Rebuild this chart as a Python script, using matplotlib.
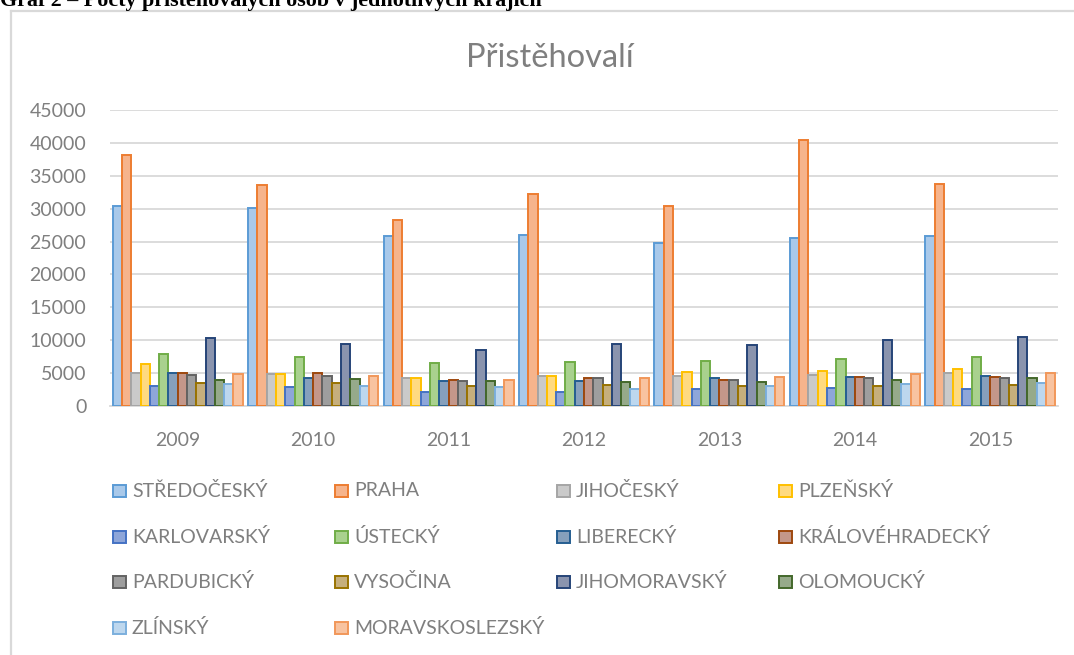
import numpy as np
import matplotlib.pyplot as plt
from matplotlib.patches import Rectangle
from matplotlib.lines import Line2D

years = ['2009', '2010', '2011', '2012', '2013', '2014', '2015']

kraje = ['STŘEDOČESKÝ', 'PRAHA', 'JIHOČESKÝ', 'PLZEŇSKÝ',
         'KARLOVARSKÝ', 'ÚSTECKÝ', 'LIBERECKÝ', 'KRÁLOVÉHRADECKÝ',
         'PARDUBICKÝ', 'VYSOČINA', 'JIHOMORAVSKÝ', 'OLOMOUCKÝ',
         'ZLÍNSKÝ', 'MORAVSKOSLEZSKÝ']

# pocty pristehovalych, jeden seznam na kraj (2009..2015)
stredocesky = [30400, 30100, 25800, 26000, 24800, 25600, 25800]
praha = [38100, 33600, 28300, 32300, 30400, 40400, 33700]
jihocesky = [5000, 4800, 4200, 4600, 4600, 4700, 5000]
plzensky = [6400, 4800, 4200, 4600, 5100, 5300, 5600]
karlovarsky = [3100, 2900, 2200, 2200, 2600, 2800, 2600]
ustecky = [7900, 7500, 6600, 6700, 6900, 7200, 7400]
liberecky = [5000, 4200, 3800, 3800, 4200, 4400, 4600]
kralovehradecky = [5000, 5000, 4000, 4200, 4000, 4400, 4400]
pardubicky = [4700, 4500, 3800, 4200, 4000, 4200, 4200]
vysocina = [3500, 3500, 3000, 3200, 3000, 3000, 3200]
jihomoravsky = [10300, 9500, 8500, 9500, 9300, 10100, 10500]
olomoucky = [3900, 4100, 3800, 3600, 3600, 4000, 4200]
zlinsky = [3300, 3100, 2900, 2600, 3000, 3300, 3500]
moravskoslezsky = [4800, 4500, 4000, 4300, 4400, 4800, 5000]

values = [stredocesky, praha, jihocesky, plzensky, karlovarsky, ustecky,
          liberecky, kralovehradecky, pardubicky, vysocina, jihomoravsky,
          olomoucky, zlinsky, moravskoslezsky]

edge_colors = ['#5B9BD5', '#ED7D31', '#A5A5A5', '#FFC000', '#4472C4', '#70AD47',
               '#255E91', '#9E480E', '#636363', '#997300', '#264478', '#43682B',
               '#7CAFDD', '#F1975A']
fill_colors = ['#A9C9EA', '#F6B48C', '#CACACA', '#FFDA80', '#8EA6D9', '#A9D18E',
               '#86A0BC', '#C4978A', '#9E9E9E', '#C6AF7C', '#8A94AE', '#96AA8A',
               '#BDD7EE', '#F8C3A0']

W, H = 1074, 655
fig = plt.figure(figsize=(W / 100, H / 100), dpi=100)

def px(x, y):
    return x / W, 1 - y / H

# ramecek grafu (pokracuje mimo obrazek vpravo a dole)
fig.add_artist(Line2D([11 / W, 11 / W], [0, 1 - 11 / H], color='#D9D9D9', lw=1.6))
fig.add_artist(Line2D([11 / W, 1], [1 - 11 / H, 1 - 11 / H], color='#D9D9D9', lw=1.6))

# popisek nad grafem, horni cast glyfu je mimo okraj stranky
fig.text(0.0, 1 - 6 / H, 'Graf 2 – Počty přistěhovalých osob v jednotlivých krajích',
         fontfamily='Liberation Serif', fontweight='bold', fontsize=15.8, va='baseline')

ax = fig.add_axes([110 / W, 1 - 406 / H, 948 / W, 296 / H])

n = len(kraje)
x = np.arange(len(years))
group = 0.96
bw = group / n
for i in range(n):
    ax.bar(x - group / 2 + bw * (i + 0.5), values[i], width=bw,
           color=fill_colors[i], edgecolor=edge_colors[i], linewidth=1.4, zorder=3)

ax.set_xlim(-0.5, len(years) - 0.5)
ax.set_ylim(0, 45000)
ax.set_yticks(range(0, 45001, 5000))
ax.set_xticks(x)
ax.set_xticklabels(years)
ax.tick_params(axis='both', length=0, labelsize=14, labelcolor='#7F7F7F',
               labelfontfamily='Lato')
ax.tick_params(axis='y', pad=17)
ax.tick_params(axis='x', pad=19)
ax.grid(axis='y', color='#D9D9D9', lw=1.3, zorder=0)
for s in ['left', 'right', 'top']:
    ax.spines[s].set_visible(False)
ax.spines['bottom'].set_color('#D9D9D9')
ax.spines['bottom'].set_linewidth(1.3)

fig.text(*px(550, 58), 'Přistěhovalí', fontfamily='Lato', fontsize=23.5,
         color='#7F7F7F', ha='center', va='center')

# legenda po radcich, 4 sloupce
col_x = [113, 335, 557, 779]
row_y = [491, 537, 582, 628]
for i in range(n):
    cx = col_x[i % 4]
    cy = row_y[i // 4]
    x0, y0 = px(cx, cy + 6)
    fig.add_artist(Rectangle((x0, y0), 13 / W, 12 / H, transform=fig.transFigure,
                             facecolor=fill_colors[i], edgecolor=edge_colors[i], lw=1.4))
    fig.text(*px(cx + 19, cy), kraje[i], fontfamily='Lato', fontsize=14,
             color='#7F7F7F', va='center')

fig.savefig('out.png', dpi=100)
